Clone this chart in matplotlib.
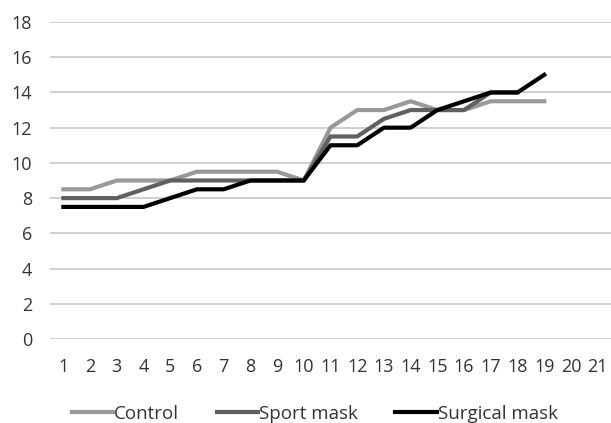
import matplotlib.pyplot as plt

days = list(range(1, 20))
control = [8.5, 8.5, 9, 9, 9, 9.5, 9.5, 9.5, 9.5, 9, 12, 13, 13, 13.5, 13, 13, 13.5, 13.5, 13.5]
sport = [8, 8, 8, 8.5, 9, 9, 9, 9, 9, 9, 11.5, 11.5, 12.5, 13, 13, 13, 14, 14]
surgical = [7.5, 7.5, 7.5, 7.5, 8, 8.5, 8.5, 9, 9, 9, 11, 11, 12, 12, 13, 13.5, 14, 14, 15]
xticks = list(range(1, 22))
yticks = list(range(0, 19, 2))

plt.rcParams['font.family'] = ['Open Sans', 'DejaVu Sans']

fig = plt.figure(figsize=(6.11, 4.23), dpi=100)
ax = fig.add_axes([50/611, 84/423, 561/611, 317/423])

ax.plot(days, control, color='#999999', lw=3, label='Control')
ax.plot(days[:len(sport)], sport, color='#606060', lw=3, label='Sport mask')
ax.plot(days, surgical, color='#000000', lw=3, label='Surgical mask')

ax.set_xlim(0.5, 21.5)
ax.set_ylim(0, 18)
ax.set_xticks(xticks)
ax.set_yticks(yticks)
ax.tick_params(length=0, labelsize=13, colors='#333333')
ax.tick_params(axis='x', pad=14)
ax.tick_params(axis='y', pad=13)
ax.grid(axis='y', color='#cccccc', lw=1.3)
ax.set_axisbelow(True)
for s in ax.spines.values():
    s.set_visible(False)

ax.legend(loc='upper center', bbox_to_anchor=(0.472, -0.155), ncol=3, frameon=False,
          fontsize=13.5, handlelength=2.2, handletextpad=0.05, columnspacing=2.0,
          labelcolor='#333333')

plt.savefig('out.png')
